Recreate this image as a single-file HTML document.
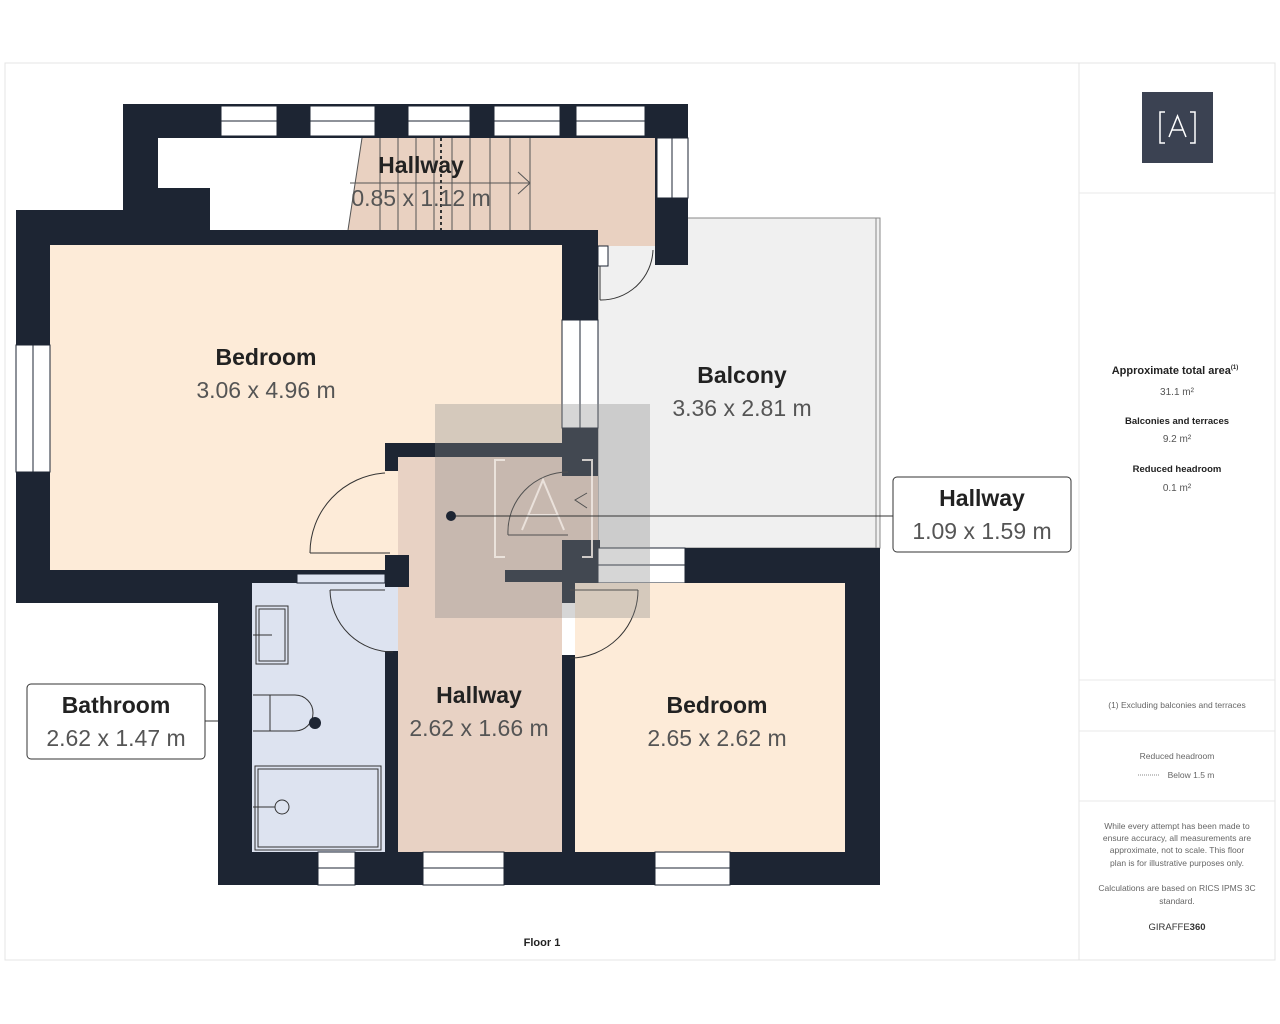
<!DOCTYPE html>
<html><head><meta charset="utf-8"><style>
html,body{margin:0;padding:0;background:#fff;width:1280px;height:1024px;overflow:hidden}
svg{display:block}
text{font-family:"Liberation Sans",sans-serif}
</style></head><body>
<svg width="1280" height="1024" viewBox="0 0 1280 1024">
<rect x="5" y="63" width="1270" height="897" fill="#fff" stroke="#e4e4e4"/>
<line x1="1079" y1="63" x2="1079" y2="960" stroke="#e4e4e4"/>
<line x1="1079" y1="193" x2="1275" y2="193" stroke="#e8e8e8"/>
<line x1="1079" y1="680" x2="1275" y2="680" stroke="#e8e8e8"/>
<line x1="1079" y1="731" x2="1275" y2="731" stroke="#e8e8e8"/>
<line x1="1079" y1="801" x2="1275" y2="801" stroke="#e8e8e8"/>

<!-- balcony -->
<rect x="598" y="218" width="282" height="330" fill="#f0f0f0" stroke="#888" stroke-width="1"/>
<line x1="876" y1="218" x2="876" y2="548" stroke="#888"/>

<!-- top stair block walls -->
<rect x="123" y="104" width="565" height="34" fill="#1d2533"/>
<rect x="123" y="104" width="35" height="130" fill="#1d2533"/>
<g fill="#fff" stroke="#1d2533" stroke-width="1">
<rect x="221" y="106" width="56" height="30"/><rect x="310" y="106" width="65" height="30"/>
<rect x="408" y="106" width="62" height="30"/><rect x="494" y="106" width="66" height="30"/>
<rect x="576" y="106" width="69" height="30"/>
</g>
<g stroke="#1d2533" stroke-width="1"><line x1="221" y1="121" x2="645" y2="121"/></g>
<rect x="158" y="138" width="497" height="92" fill="#fff"/>
<rect x="158" y="188" width="52" height="42" fill="#1d2533"/>
<polygon points="362,138 655,138 655,246 598,246 598,230 348,230" fill="#e9d1c1"/>
<g stroke="#555" stroke-width="1">
<line x1="362" y1="138" x2="348" y2="230"/>
<line x1="380" y1="138" x2="380" y2="230"/><line x1="398" y1="138" x2="398" y2="230"/>
<line x1="416" y1="138" x2="416" y2="230"/><line x1="434" y1="138" x2="434" y2="230"/>
<line x1="452" y1="138" x2="452" y2="230"/><line x1="470" y1="138" x2="470" y2="230"/>
<line x1="490" y1="138" x2="490" y2="230"/><line x1="510" y1="138" x2="510" y2="230"/>
<line x1="530" y1="138" x2="530" y2="230"/>
<line x1="350" y1="183" x2="530" y2="183"/>
<polyline points="518,172 530,183 518,194" fill="none"/>
<line x1="441" y1="138" x2="441" y2="230" stroke-dasharray="3,3" stroke-width="2" stroke="#333"/>
</g>
<rect x="655" y="138" width="33" height="127" fill="#1d2533"/>
<rect x="657" y="138" width="31" height="60" fill="#fff" stroke="#1d2533"/>
<line x1="672" y1="138" x2="672" y2="198" stroke="#1d2533"/>

<!-- big bedroom -->
<rect x="16" y="210" width="194" height="393" fill="#1d2533"/>
<rect x="16" y="230" width="582" height="373" fill="#1d2533"/>
<rect x="50" y="245" width="512" height="325" fill="#fdebd8"/>
<rect x="16" y="345" width="34" height="127" fill="#fff" stroke="#1d2533"/>
<line x1="33" y1="345" x2="33" y2="472" stroke="#1d2533"/>
<rect x="562" y="320" width="36" height="108" fill="#fff" stroke="#1d2533"/>
<line x1="580" y1="320" x2="580" y2="428" stroke="#1d2533"/>
<rect x="598" y="246" width="10" height="20" fill="#fff" stroke="#1d2533"/>
<path d="M600 300 L600 266 M600 300 A 52 52 0 0 0 653 250" fill="none" stroke="#333"/>

<!-- hallway middle -->
<rect x="385" y="443" width="182" height="14" fill="#1d2533"/>
<rect x="562" y="428" width="36" height="48" fill="#1d2533"/>
<rect x="398" y="457" width="164" height="395" fill="#e8d2c4"/>
<rect x="562" y="476" width="36" height="110" fill="#e8d2c4"/>
<rect x="385" y="443" width="13" height="28" fill="#1d2533"/>
<rect x="385" y="555" width="24" height="32" fill="#1d2533"/>
<rect x="505" y="570" width="93" height="12" fill="#1d2533"/>
<rect x="562" y="540" width="38" height="47" fill="#1d2533"/>
<rect x="562" y="655" width="13" height="197" fill="#1d2533"/>
<rect x="598" y="548" width="87" height="35" fill="#fff" stroke="#1d2533"/>
<line x1="598" y1="565" x2="685" y2="565" stroke="#1d2533"/>
<!-- bathroom -->
<rect x="16" y="570" width="369" height="33" fill="#1d2533"/>
<rect x="218" y="583" width="34" height="302" fill="#1d2533"/>
<rect x="252" y="583" width="133" height="269" fill="#dde3f0"/>
<rect x="297" y="574" width="88" height="9" fill="#dde3f0" stroke="#1d2533"/>
<rect x="385" y="587" width="13" height="265" fill="#1d2533"/>
<rect x="385" y="587" width="13" height="64" fill="#dde3f0"/>
<g fill="none" stroke="#333">
<rect x="256" y="606" width="32" height="58"/><rect x="259" y="609" width="26" height="52"/>
<line x1="253" y1="635" x2="272" y2="635"/>
<path d="M253 695 L295 695 A18 18 0 0 1 295 731 L253 731 M270 695 L270 731"/>
<rect x="255" y="766" width="126" height="84"/><rect x="258" y="769" width="120" height="78"/>
<circle cx="282" cy="807" r="7"/><line x1="253" y1="807" x2="275" y2="807"/>
</g>
<circle cx="315" cy="723" r="6" fill="#1d2533"/>
<!-- bedroom 2 -->
<rect x="685" y="548" width="195" height="35" fill="#1d2533"/>
<rect x="845" y="548" width="35" height="337" fill="#1d2533"/>
<rect x="575" y="583" width="270" height="269" fill="#fdebd8"/>
<rect x="218" y="852" width="662" height="33" fill="#1d2533"/>
<g fill="#fff" stroke="#1d2533">
<rect x="318" y="852" width="37" height="33"/><rect x="423" y="852" width="81" height="33"/>
<rect x="655" y="852" width="75" height="33"/>
</g>
<g stroke="#1d2533"><line x1="318" y1="868" x2="355" y2="868"/><line x1="423" y1="868" x2="504" y2="868"/><line x1="655" y1="868" x2="730" y2="868"/></g>
<!-- doors -->
<g fill="none" stroke="#333">
<path d="M310 553 A80 80 0 0 1 385 473 M310 553 L390 553"/>
<path d="M330 590 L385 590 M330 590 A 63 63 0 0 0 393 652"/>
<path d="M508 535 A 60 60 0 0 1 568 472 M508 535 L568 535"/>
<path d="M638 590 A 68 68 0 0 1 570 658 M570 590 L638 590"/>
<polyline points="587,493 575,500 587,508"/>
</g>
<!-- overlay logo -->
<rect x="435" y="404" width="215" height="214" fill="#8a8a8a" opacity="0.35"/>
<g fill="none" stroke="#f3ece6" stroke-width="2" opacity="0.8">
<path d="M505 460 L495 460 L495 557 L505 557 M582 460 L592 460 L592 557 L582 557"/>
<path d="M522 530 L543 480 L564 530 M529 515 L557 515"/>
</g>
<!-- callout line -->
<line x1="451" y1="516" x2="893" y2="516" stroke="#333"/>
<circle cx="451" cy="516" r="5" fill="#1d2533"/>
<line x1="205" y1="721" x2="218" y2="721" stroke="#333"/>
<rect x="893" y="477" width="178" height="75" rx="4" fill="#fff" stroke="#333"/>
<rect x="27" y="684" width="178" height="75" rx="4" fill="#fff" stroke="#333"/>

<!-- labels -->
<g text-anchor="middle">
<text x="421" y="173" font-size="23" font-weight="bold" fill="#222">Hallway</text>
<text x="421" y="206" font-size="23" fill="#555">0.85 x 1.12 m</text>
<text x="266" y="365" font-size="23" font-weight="bold" fill="#222">Bedroom</text>
<text x="266" y="398" font-size="23" fill="#555">3.06 x 4.96 m</text>
<text x="742" y="383" font-size="23" font-weight="bold" fill="#222">Balcony</text>
<text x="742" y="416" font-size="23" fill="#555">3.36 x 2.81 m</text>
<text x="982" y="506" font-size="23" font-weight="bold" fill="#222">Hallway</text>
<text x="982" y="539" font-size="23" fill="#555">1.09 x 1.59 m</text>
<text x="116" y="713" font-size="23" font-weight="bold" fill="#222">Bathroom</text>
<text x="116" y="746" font-size="23" fill="#555">2.62 x 1.47 m</text>
<text x="479" y="703" font-size="23" font-weight="bold" fill="#222">Hallway</text>
<text x="479" y="736" font-size="23" fill="#555">2.62 x 1.66 m</text>
<text x="717" y="713" font-size="23" font-weight="bold" fill="#222">Bedroom</text>
<text x="717" y="746" font-size="23" fill="#555">2.65 x 2.62 m</text>
<text x="542" y="946" font-size="11" font-weight="bold" fill="#222">Floor 1</text>
</g>

<!-- right panel -->
<rect x="1142" y="92" width="71" height="71" fill="#3b4252"/>
<g fill="none" stroke="#fff" stroke-width="1.5">
<path d="M1165 112 L1160 112 L1160 143 L1165 143 M1190 112 L1195 112 L1195 143 L1190 143"/>
<path d="M1169 137 L1177.5 116 L1186 137 M1172 130 L1183 130"/>
</g>
<g text-anchor="middle" fill="#222">
<text x="1175" y="374" font-size="11" font-weight="bold">Approximate total area<tspan font-size="6" dy="-5">(1)</tspan></text>
<text x="1177" y="395" font-size="10" fill="#555">31.1 m²</text>
<text x="1177" y="424" font-size="9.5" font-weight="bold">Balconies and terraces</text>
<text x="1177" y="442" font-size="10" fill="#555">9.2 m²</text>
<text x="1177" y="472" font-size="9.5" font-weight="bold">Reduced headroom</text>
<text x="1177" y="491" font-size="10" fill="#555">0.1 m²</text>
<text x="1177" y="708" font-size="8.5" fill="#666">(1) Excluding balconies and terraces</text>
<text x="1177" y="759" font-size="8.5" fill="#666">Reduced headroom</text>
<text x="1191" y="778" font-size="8.5" fill="#666">Below 1.5 m</text>
<text x="1177" y="829" font-size="8.5" fill="#666">While every attempt has been made to</text>
<text x="1177" y="841" font-size="8.5" fill="#666">ensure accuracy, all measurements are</text>
<text x="1177" y="853" font-size="8.5" fill="#666">approximate, not to scale. This floor</text>
<text x="1177" y="866" font-size="8.5" fill="#666">plan is for illustrative purposes only.</text>
<text x="1177" y="891" font-size="8.5" fill="#666">Calculations are based on RICS IPMS 3C</text>
<text x="1177" y="904" font-size="8.5" fill="#666">standard.</text>
<text x="1177" y="930" font-size="9.5" fill="#333">GIRAFFE<tspan font-weight="bold">360</tspan></text>
</g>
<line x1="1138" y1="775" x2="1160" y2="775" stroke="#888" stroke-dasharray="1,1"/>
</svg>
</body></html>
